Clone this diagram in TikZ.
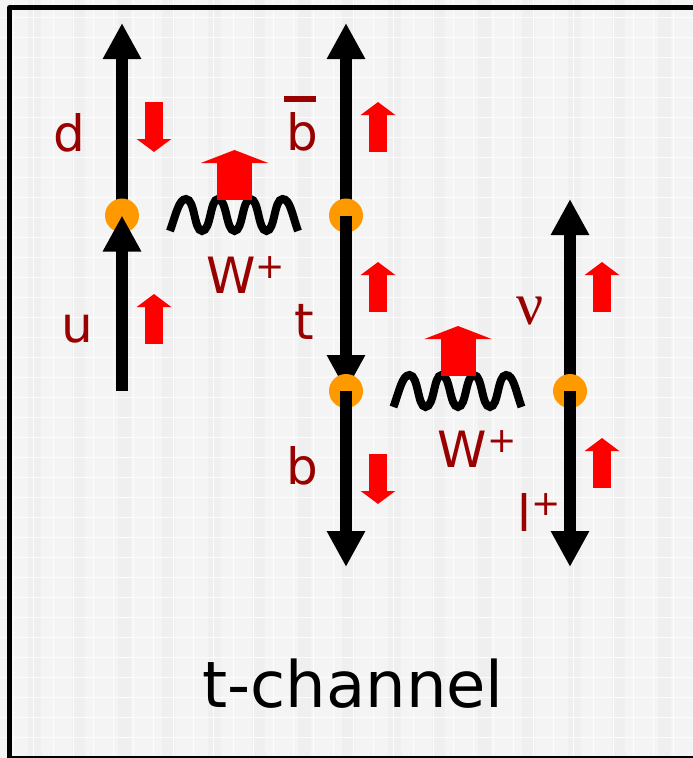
\documentclass[tikz,border=0pt]{standalone}
\usepackage{fontspec}
\setmainfont{DejaVu Sans}
\newfontfamily\nufont{Liberation Serif}
\usetikzlibrary{arrows.meta}
\definecolor{labelred}{HTML}{990000}
\definecolor{spinred}{HTML}{FF0000}
\definecolor{vertexorange}{HTML}{FF9900}
\definecolor{paper}{HTML}{F4F4F4}
\definecolor{band}{HTML}{EFEFEF}
\newcommand{\lab}[1]{\fontsize{#1pt}{#1pt}\selectfont}
\newcommand{\supplus}[1]{\raisebox{#1pt}{\lab{35}+}}
\tikzset{
  fermion/.style={line width=12pt,black,-{Triangle[length=36pt,width=36pt]}},
  vertexdot/.style={circle,fill=vertexorange,minimum size=34pt,inner sep=0pt},
  spin/.style={line width=18pt,spinred,-{Triangle[length=13pt,width=34pt]}},
  bigspin/.style={line width=35pt,spinred,-{Triangle[length=13pt,width=67pt]}},
  wiggle/.style={line width=8pt,black,line cap=butt},
  particle/.style={text=labelred,inner sep=0pt,anchor=base}
}
\newcommand{\wigglepath}{
  \draw[wiggle] (170,231) .. controls (176,214) and (179,199) .. (186,199)
    .. controls (195,199) and (194,231) .. (202,231)
    .. controls (211,231) and (210,199) .. (218,199)
    .. controls (227,199) and (226,231) .. (234.5,231)
    .. controls (243,231) and (242,199) .. (250.5,199)
    .. controls (259,199) and (258,231) .. (266.5,231)
    .. controls (275,231) and (274,199) .. (282.5,199)
    .. controls (290,199) and (292,214) .. (298,231);
}
\begin{document}
\begin{tikzpicture}[x=1pt,y=-1pt]
\useasboundingbox (0,0) rectangle (693,758);
% paper with its faint plaid
\fill[paper] (0,0) rectangle (693,758);
\foreach \bx in {28,72,118,162,208,252,298,342,388,432,478,522,568,612,658}
  \fill[band] (\bx,0) rectangle ++(13,758);
\foreach \lx in {13,33,53,73,93,113,133,153,173,193,213,233,253,273,293,313,333,353,373,393,413,433,453,473,493,513,533,553,573,593,613,633,653,673}
  \fill[white!70!paper] (\lx,0) rectangle ++(1.2,758);
\foreach \ly in {17,37,57,77,97,117,137,157,177,197,217,237,257,277,297,317,337,357,377,397,417,437,457,477,497,517,537,557,577,597,617,637,657,677,697,717,737}
  \fill[white!70!paper] (0,\ly) rectangle ++(693,1.2);
% frame
\draw[line width=4.5pt,black,line join=round] (693,7.5) -- (9.5,7.5) -- (9.5,758) -- (693,758);

% named points
\coordinate (A) at (122,215.5);
\coordinate (B) at (346,215.5);
\coordinate (C) at (346,391);
\coordinate (D) at (570,391);
\coordinate (uStart) at (122,391);
\coordinate (dEnd) at (122,23);
\coordinate (bbarEnd) at (346,23);
\coordinate (bEnd) at (346,567);
\coordinate (nuEnd) at (570,199);
\coordinate (lEnd) at (570,567);

% fermion lines and vertices, in stacking order
\draw[fermion] (A) -- (dEnd);
\node[vertexdot] (vA) at (A) {};
\draw[fermion] (uStart) -- (A);
\draw[fermion] (B) -- (bbarEnd);
\node[vertexdot] (vB) at (B) {};
\draw[fermion] (B) -- (C);
\node[vertexdot] (vC) at (C) {};
\draw[fermion] (C) -- (bEnd);
\draw[fermion] (D) -- (nuEnd);
\node[vertexdot] (vD) at (D) {};
\draw[fermion] (D) -- (lEnd);

% W bosons
\wigglepath
\begin{scope}[shift={(223.5,176)}]
\wigglepath
\end{scope}

% spin arrows
\draw[spin] (154,102) -- (154,152);
\draw[spin] (154,344) -- (154,294);
\draw[spin] (378,152) -- (378,102);
\draw[spin] (378,312) -- (378,262);
\draw[spin] (378,454) -- (378,504);
\draw[spin] (602,312) -- (602,262);
\draw[spin] (602,488) -- (602,438);
\draw[bigspin] (234.5,200) -- (234.5,150);
\draw[bigspin] (458,376) -- (458,326);

% labels
\node[particle] (ld) at (69.5,151) {\lab{50}d};
\node[particle] (lu) at (77.5,342) {\lab{50}u};
\node[particle] (lb1) at (302,150) {\lab{50}b};
\fill[labelred] (284,96) rectangle (316,102);
\node[particle] (lw1) at (245.5,293) {\lab{50}W\supplus{14.5}};
\node[particle] (lt) at (304,339) {\lab{50}t};
\node[particle] (lnu) at (530,324) {\lab{60}\nufont ν};
\node[particle] (lw2) at (477,467) {\lab{50}W\supplus{14.5}};
\node[particle] (lb2) at (302,484) {\lab{50}b};
\node[particle] (ll) at (539.5,531) {\lab{50}l\supplus{16}};
\node[text=black,inner sep=0pt,anchor=base] (title) at (353,707) {\lab{64}t-channel};
\end{tikzpicture}
\end{document}
